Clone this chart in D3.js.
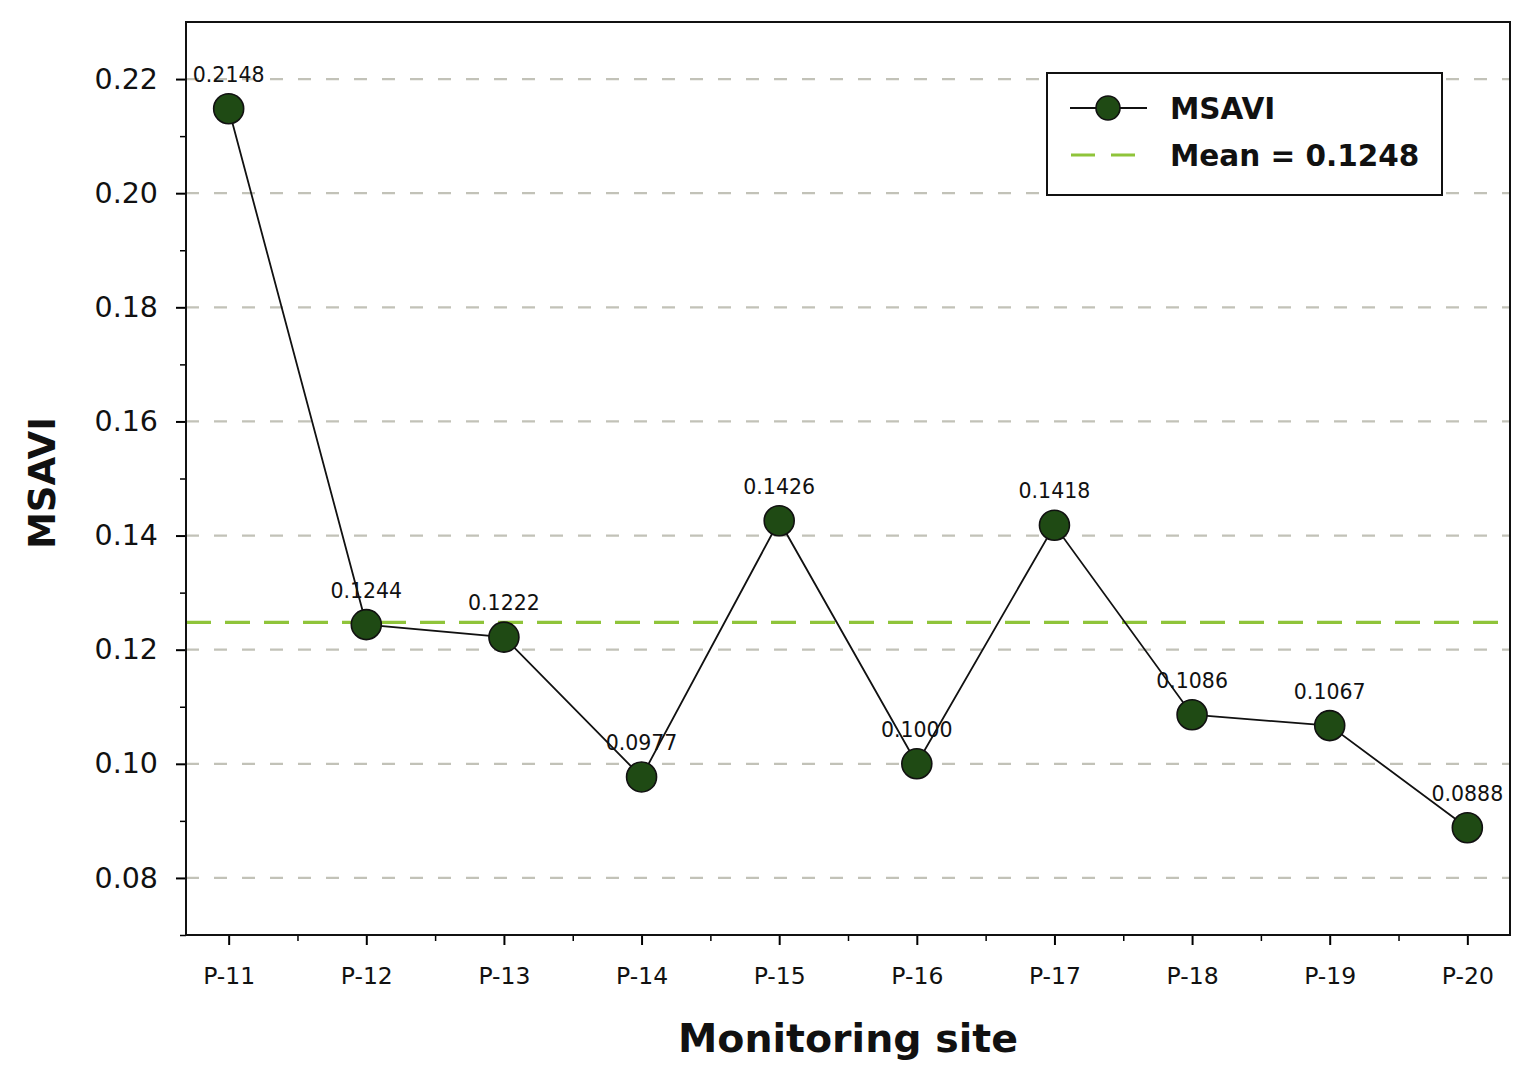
<!DOCTYPE html>
<html><head><meta charset="utf-8">
<script src="https://cdn.jsdelivr.net/npm/d3@7/dist/d3.min.js"></script>
<style>body{margin:0;background:#fff}svg{display:block;font-family:"DejaVu Sans",sans-serif}</style>
</head><body><svg id="c" width="1536" height="1088"></svg>
<script>
const sites = ["P-11","P-12","P-13","P-14","P-15","P-16","P-17","P-18","P-19","P-20"];
const msavi = [0.2148,0.1244,0.1222,0.0977,0.1426,0.1000,0.1418,0.1086,0.1067,0.0888];
const meanValue = 0.1248;
const yTicks = [0.08,0.10,0.12,0.14,0.16,0.18,0.20,0.22];
const yMinorTicks = [0.07,0.09,0.11,0.13,0.15,0.17,0.19,0.21];
const seriesName = "MSAVI";
const meanLabel = "Mean = 0.1248";
const xTitle = "Monitoring site";
const yTitle = "MSAVI";

const L=186,R=1510,T=22,B=935;
const svg=d3.select("#c");
const x=d3.scaleLinear().domain([-0.31,sites.length-1+0.31]).range([L,R]);
const y=d3.scaleLinear().domain([0.07,0.23]).range([B,T]);

// grid
svg.append("g").selectAll("line").data(yTicks).join("line")
 .attr("x1",L).attr("x2",R).attr("y1",d=>y(d)).attr("y2",d=>y(d))
 .attr("stroke","#c2c2b8").attr("stroke-width",2.2).attr("stroke-dasharray","13,15");

// mean line
svg.append("line").attr("x1",L).attr("x2",R).attr("y1",y(meanValue)).attr("y2",y(meanValue))
 .attr("stroke","#8fc43a").attr("stroke-width",3.2).attr("stroke-dasharray","25,14");

// axes
const xAxis=d3.axisBottom(x).tickValues(d3.range(sites.length)).tickFormat(i=>sites[i]).tickSize(10).tickPadding(22);
const gx=svg.append("g").attr("transform",`translate(0,${B})`).call(xAxis);
gx.select(".domain").remove();
gx.selectAll(".tick line").attr("stroke","#000").attr("stroke-width",2);
gx.selectAll(".tick text").attr("font-size",23.5).attr("fill","#111").attr("font-family","DejaVu Sans");
const xMinor=d3.axisBottom(x).tickValues(d3.range(sites.length+1).map(i=>i-0.5).filter(v=>v>-0.31&&v<sites.length-1+0.31)).tickSize(6).tickFormat("");
const gxm=svg.append("g").attr("transform",`translate(0,${B})`).call(xMinor);
gxm.select(".domain").remove();
gxm.selectAll(".tick line").attr("stroke","#000").attr("stroke-width",1.5);

const yAxis=d3.axisLeft(y).tickValues(yTicks).tickFormat(d3.format(".2f")).tickSize(10).tickPadding(18);
const gy=svg.append("g").attr("transform",`translate(${L},0)`).call(yAxis);
gy.select(".domain").remove();
gy.selectAll(".tick line").attr("stroke","#000").attr("stroke-width",2);
gy.selectAll(".tick text").attr("font-size",28.5).attr("fill","#111").attr("font-family","DejaVu Sans");
const yMinor=d3.axisLeft(y).tickValues(yMinorTicks).tickSize(6).tickFormat("");
const gym=svg.append("g").attr("transform",`translate(${L},0)`).call(yMinor);
gym.select(".domain").remove();
gym.selectAll(".tick line").attr("stroke","#000").attr("stroke-width",1.5);

// frame
svg.append("rect").attr("x",L).attr("y",T).attr("width",R-L).attr("height",B-T)
 .attr("fill","none").attr("stroke","#111").attr("stroke-width",2);

// line + markers
const line=d3.line().x((d,i)=>x(i)).y(d=>y(d));
svg.append("path").datum(msavi).attr("d",line).attr("fill","none").attr("stroke","#111").attr("stroke-width",1.8);
svg.append("g").selectAll("circle").data(msavi).join("circle")
 .attr("cx",(d,i)=>x(i)).attr("cy",d=>y(d)).attr("r",15)
 .attr("fill","#1f4a14").attr("stroke","#111").attr("stroke-width",1.6);

// value labels
svg.append("g").selectAll("text").data(msavi).join("text")
 .attr("x",(d,i)=>x(i)).attr("y",d=>y(d)-27).attr("text-anchor","middle")
 .attr("font-size",20.5).attr("fill","#111").text(d=>d.toFixed(4));

// titles
svg.append("text").attr("x",(L+R)/2).attr("y",1052).attr("text-anchor","middle")
 .attr("font-size",39.5).attr("font-weight","bold").attr("fill","#111").text(xTitle);
svg.append("text").attr("transform","translate(55,483) rotate(-90)").attr("text-anchor","middle")
 .attr("font-size",37).attr("font-weight","bold").attr("fill","#111").text(yTitle);

// legend
const lg=svg.append("g");
lg.append("rect").attr("x",1047).attr("y",73).attr("width",395).attr("height",122)
 .attr("fill","#fff").attr("stroke","#111").attr("stroke-width",2);
lg.append("line").attr("x1",1070).attr("x2",1147).attr("y1",108).attr("y2",108).attr("stroke","#111").attr("stroke-width",2);
lg.append("circle").attr("cx",1108).attr("cy",108).attr("r",12).attr("fill","#1f4a14").attr("stroke","#111").attr("stroke-width",1.6);
lg.append("line").attr("x1",1071).attr("x2",1137).attr("y1",155).attr("y2",155).attr("stroke","#8fc43a").attr("stroke-width",3.2).attr("stroke-dasharray","24,16");
lg.append("text").attr("x",1170).attr("y",119).attr("font-size",29.5).attr("font-weight","bold").attr("fill","#111").text(seriesName);
lg.append("text").attr("x",1170).attr("y",166).attr("font-size",29.5).attr("font-weight","bold").attr("fill","#111").text(meanLabel);
</script></body></html>
